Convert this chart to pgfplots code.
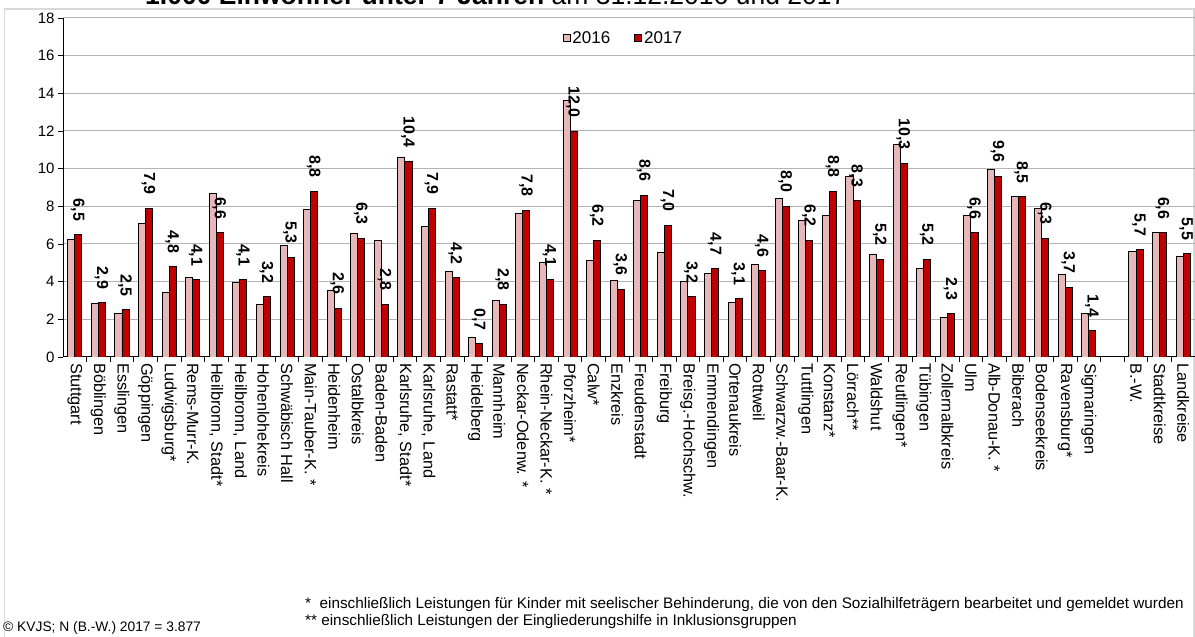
\documentclass[border=0pt]{standalone}
\usepackage{fontspec}
\setmainfont{Liberation Sans}
\usepackage{pgfplots}
\pgfplotsset{compat=1.18}
\definecolor{c16}{HTML}{E6B9B8}
\definecolor{c17}{HTML}{C00000}
\definecolor{gridc}{HTML}{B3B3B3}
\definecolor{framec}{HTML}{D9D9D9}
\begin{document}
\begin{tikzpicture}[x=1pt,y=1pt]
\useasboundingbox (0,0) rectangle (1195,637);
\draw[framec, line width=1.5pt] (4.5,-20) -- (4.5,628) -- (1194,628) -- (1194,-20);
\node[anchor=base west, inner sep=0pt, font=\fontsize{26.5}{30}\selectfont] at (145,632) {\textbf{1.000 Einwohner unter 7 Jahren} am 31.12.2016 und 2017};
\begin{axis}[
  at={(63pt,280pt)}, anchor=south west,
  scale only axis, width=1132pt, height=339pt,
  ymin=0, ymax=18, ytick={0,2,...,18},
  xmin=-0.5, xmax=47.5,
  axis x line*=bottom, axis y line*=left,
  axis line style={black, line width=1pt},
  ymajorgrids, grid style={gridc, line width=1pt},
  tick align=outside, major tick length=5pt,
  tick style={black, line width=0.8pt},
  xtick={0,...,47},
  xticklabels={Stuttgart, Böblingen, Esslingen, Göppingen, Ludwigsburg*, Rems-Murr-K., {Heilbronn, Stadt*}, {Heilbronn, Land}, Hohenlohekreis, Schwäbisch Hall, Main-Tauber-K. *, Heidenheim, Ostalbkreis, Baden-Baden, {Karlsruhe, Stadt*}, {Karlsruhe, Land}, Rastatt*, Heidelberg, Mannheim, Neckar-Odenw. *, Rhein-Neckar-K. *, Pforzheim*, Calw*, Enzkreis, Freudenstadt, Freiburg, Breisg.-Hochschw., Emmendingen, Ortenaukreis, Rottweil, Schwarzw.-Baar-K., Tuttlingen, Konstanz*, Lörrach**, Waldshut, Reutlingen*, Tübingen, Zollernalbkreis, Ulm, Alb-Donau-K. *, Biberach, Bodenseekreis, Ravensburg*, Sigmaringen, {}, B.-W., Stadtkreise, Landkreise},
  xtick style={draw=none},
  x tick label style={rotate=-90, anchor=west, font=\fontsize{16.3}{16}\selectfont, inner sep=1pt},
  extra x ticks={0.5,1.5,...,46.5},
  extra x tick labels={},
  extra x tick style={xtick style={draw=black, line width=0.8pt}, grid=none},
  y tick label style={font=\fontsize{15}{15}\selectfont},
  /pgf/number format/assume math mode=true,
  legend style={at={(0.495,0.941)}, anchor=center, draw=none, fill=none, font=\fontsize{17}{17}\selectfont, legend columns=2, /tikz/every even column/.append style={column sep=22pt}, inner sep=0pt},
  legend cell align=left,
]
\addplot[ybar, bar width=0.3, bar shift=-0.15, fill=c16, draw=black, line width=0.9pt,
  legend image code/.code={\draw[fill=c16, draw=black, line width=0.9pt] (0pt,-3.5pt) rectangle (7pt,3.5pt);}]
coordinates {
(0,6.25) (1,2.85) (2,2.32) (3,7.1) (4,3.45) (5,4.2) (6,8.67) (7,3.97) (8,2.8) (9,5.93)
(10,7.86) (11,3.52) (12,6.58) (13,6.18) (14,10.62) (15,6.92) (16,4.55) (17,1.03) (18,2.99) (19,7.6)
(20,5.0) (21,13.61) (22,5.13) (23,4.07) (24,8.32) (25,5.56) (26,4.02) (27,4.42) (28,2.87) (29,4.89)
(30,8.43) (31,7.24) (32,7.5) (33,9.61) (34,5.47) (35,11.3) (36,4.71) (37,2.09) (38,7.52) (39,9.98)
(40,8.51) (41,7.88) (42,4.37) (43,2.32) (45,5.58) (46,6.62) (47,5.35)
};
\addlegendentry{2016}
\addplot[ybar, bar width=0.3, bar shift=0.15, fill=c17, draw=black, line width=0.9pt,
  legend image code/.code={\draw[fill=c17, draw=black, line width=0.9pt] (0pt,-3.5pt) rectangle (7pt,3.5pt);},
  nodes near coords,
  nodes near coords style={font=\bfseries\fontsize{16}{16}\selectfont, black, yshift=13pt, xshift=3pt, rotate=-90, anchor=east, inner sep=0pt,
    /pgf/number format/use comma, /pgf/number format/fixed, /pgf/number format/fixed zerofill, /pgf/number format/precision=1, /pgf/number format/assume math mode=true}]
coordinates {
(0,6.5) (1,2.9) (2,2.5) (3,7.9) (4,4.8) (5,4.1) (6,6.6) (7,4.1) (8,3.2) (9,5.3)
(10,8.8) (11,2.6) (12,6.3) (13,2.8) (14,10.4) (15,7.9) (16,4.2) (17,0.7) (18,2.8) (19,7.8)
(20,4.1) (21,12.0) (22,6.2) (23,3.6) (24,8.6) (25,7.0) (26,3.2) (27,4.7) (28,3.1) (29,4.6)
(30,8.0) (31,6.2) (32,8.8) (33,8.3) (34,5.2) (35,10.3) (36,5.2) (37,2.3) (38,6.6) (39,9.6)
(40,8.5) (41,6.3) (42,3.7) (43,1.4) (45,5.7) (46,6.6) (47,5.5)
};
\addlegendentry{2017}
\end{axis}
\node[anchor=base west, inner sep=0pt, font=\fontsize{15.3}{15}\selectfont] at (305,28) {*\ \ einschließlich Leistungen für Kinder mit seelischer Behinderung, die von den Sozialhilfeträgern bearbeitet und gemeldet wurden};
\node[anchor=base west, inner sep=0pt, font=\fontsize{15.3}{15}\selectfont] at (305,11) {**\ einschließlich Leistungen der Eingliederungshilfe in Inklusionsgruppen};
\node[anchor=base west, inner sep=0pt, font=\fontsize{13.8}{15}\selectfont] at (3,5) {© KVJS; N (B.-W.) 2017 = 3.877};
\end{tikzpicture}
\end{document}
